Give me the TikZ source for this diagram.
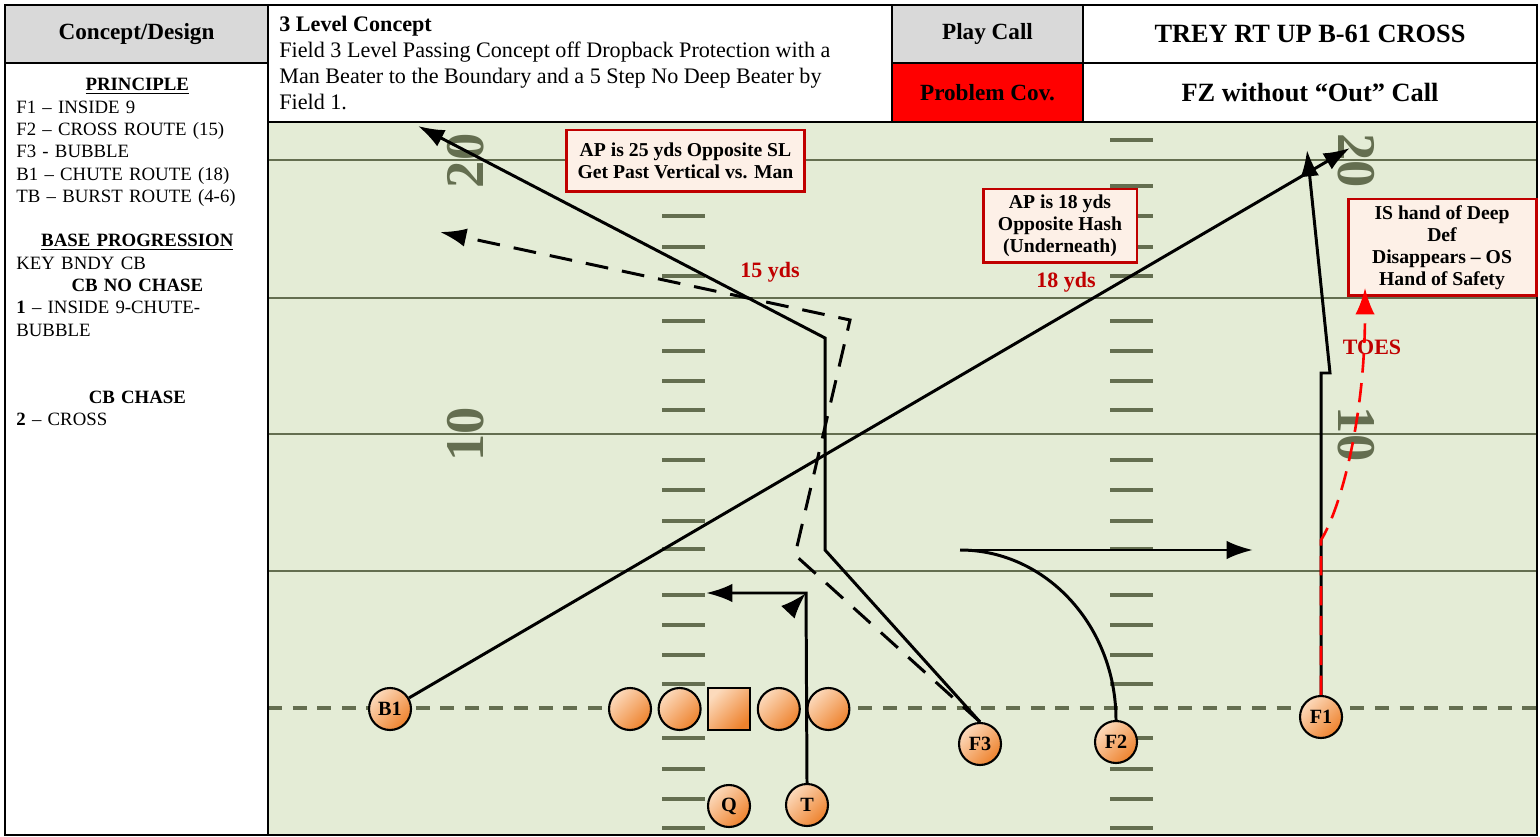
\documentclass[tikz,border=0pt]{standalone}
\usepackage{fontspec}
\setmainfont{Liberation Serif}
\usetikzlibrary{arrows.meta,positioning}
\definecolor{fieldgreen}{RGB}{228,236,214}
\definecolor{lineolive}{RGB}{100,110,80}
\definecolor{hdrgray}{RGB}{217,217,217}
\definecolor{notered}{RGB}{192,0,0}
\definecolor{notefill}{RGB}{253,240,231}
\definecolor{plylight}{RGB}{252,218,188}
\definecolor{plydark}{RGB}{238,130,45}

\begin{document}
\begin{tikzpicture}[x=0.02cm, y=-0.02cm,
  cell/.style={draw, line width=1.2pt, inner sep=0pt, minimum height=1.16cm, font=\bfseries\fontsize{13.2}{15}\selectfont},
  bigcell/.style={cell, font=\bfseries\fontsize{15}{17}\selectfont},
  yardline/.style={draw=lineolive, line width=1.7pt},
  hashmark/.style={draw=lineolive, line width=2.3pt},
  yardnum/.style={text=lineolive, font=\bfseries\fontsize{31}{31}\selectfont, inner sep=0pt},
  note/.style={draw=notered, line width=1.7pt, fill=notefill, align=center, inner sep=0pt, font=\bfseries\fontsize{11.2}{12.5}\selectfont},
  yds/.style={text=notered, font=\bfseries\fontsize{12.5}{14}\selectfont, inner sep=0pt},
  player/.style={circle, draw, line width=1.2pt, minimum size=0.84cm, inner sep=0pt, top color=plylight, bottom color=plydark, shading angle=45, font=\bfseries\fontsize{11.5}{13}\selectfont},
  snap/.style={player, rectangle},
  route/.style={line width=1.7pt},
  arr/.style={-{Latex[length=15pt,width=10.5pt]}},
  dashroute/.style={route, dash pattern=on 13pt off 8pt},
  toes/.style={draw=red, line width=1.5pt, dash pattern=on 11pt off 6pt}]
\useasboundingbox (0,0) rectangle (1540,837);
% field
\fill[fieldgreen] (268,122) rectangle (1537,835);
\foreach \yl in {160,298,434,571}
  \draw[yardline] (268,\yl) -- (1537,\yl);
\foreach \ty in {140,186,216,247,276,321,351,381,410,460,490,521,549,595,625,655,684,738,769,799,828} {
  \draw[hashmark] (662,\ty) -- (705,\ty);
  \draw[hashmark] (1110,\ty) -- (1153,\ty);
}
\draw[lineolive, line width=2pt, dash pattern=on 8pt off 6pt] (268,708) -- (1537,708);
\node[yardnum, rotate=90] (num20l) at (466,161) {20};
\node[yardnum, rotate=90] (num10l) at (466,434) {10};
\node[yardnum, rotate=-90] (num20r) at (1356,161) {20};
\node[yardnum, rotate=-90] (num10r) at (1356,434) {10};
% header
\node[cell, fill=hdrgray, minimum width=5.26cm] (designhdr) at (136.5,34) {Concept/Design};
\draw[line width=1.2pt] (5,63) rectangle (268,835);
\draw[line width=1.2pt] (268,5) rectangle (892,122);
\node[anchor=north west, align=left, inner sep=0pt, font=\fontsize{12.6}{14.7}\selectfont] (concepttxt) at (279,16)
  {\textbf{3 Level Concept}\\Field 3 Level Passing Concept off Dropback Protection with a\\Man Beater to the Boundary and a 5 Step No Deep Beater by\\Field 1.};
\node[cell, fill=hdrgray, minimum width=3.82cm] (callhdr) at (987.5,34) {Play Call};
\node[cell, fill=red, minimum width=3.82cm, minimum height=1.18cm] (covhdr) at (987.5,92.5) {Problem Cov.};
\node[bigcell, minimum width=9.08cm] (playcall) at (1310,34) {TREY RT UP B-61 CROSS};
\node[bigcell, minimum width=9.08cm, minimum height=1.18cm] (probcov) at (1310,92.5) {FZ without “Out” Call};
\draw[line width=1.2pt] (268,122) rectangle (1537,835);
\draw[line width=1.2pt] (5,5) rectangle (1537,835);
% left panel
\node[anchor=north west, text width=4.84cm, align=left, inner sep=0pt, font=\fontsize{10.7}{12.7}\selectfont] (principles) at (16,78)
  {\parindent0pt\centerline{\textbf{\underline{PRINCIPLE}}}
   F1 – INSIDE 9\\
   F2 – CROSS ROUTE (15)\\
   F3 - BUBBLE\\
   B1 – CHUTE ROUTE (18)\\
   TB – BURST ROUTE (4-6)\par
   \vskip12.7pt
   \centerline{\textbf{\underline{BASE PROGRESSION}}}
   KEY BNDY CB\par
   \centerline{\textbf{CB NO CHASE}}
   \textbf{1} – INSIDE 9-CHUTE-\\
   BUBBLE\par
   \vskip25.4pt
   \centerline{\textbf{CB CHASE}}
   \textbf{2} – CROSS};
% notes
\node[note, minimum width=4.78cm, minimum height=1.24cm] (note25) at (685.5,161) {AP is 25 yds Opposite SL\\Get Past Vertical vs. Man};
\node[note, minimum width=3.08cm, minimum height=1.48cm] (note18) at (1060,226) {AP is 18 yds\\Opposite Hash\\(Underneath)};
\node[note, minimum width=3.76cm, minimum height=1.94cm] (notesafety) at (1442,247.5) {IS hand of Deep\\Def\\Disappears – OS\\Hand of Safety};
\node[yds] (yds15) at (770,272) {15 yds};
\node[yds] (yds18) at (1066,282) {18 yds};
\node[yds] (toeslbl) at (1372,347) {TOES};
% players
\node[player] (B1) at (390,709) {B1};
\node[player] (lt) at (630,709) {};
\node[player, right=0.11cm of lt] (lg) {};
\node[snap, right=0.11cm of lg] (ctr) {};
\node[player, right=0.11cm of ctr] (rg) {};
\node[player, right=0.11cm of rg] (rt) {};
\node[player] (Q) at (729,806) {Q};
\node[player] (T) at (807,805) {T};
\node[player] (F3) at (980,744) {F3};
\node[player] (F2) at (1116,742) {F2};
\node[player] (F1) at (1321,717) {F1};
% routes
\coordinate (b1tip) at (1350,148);
\draw[route, arr] (B1) -- (b1tip);
\coordinate (f3low) at (825,550);
\coordinate (f3high) at (825,338);
\coordinate (f3tip) at (418,126);
\draw[route, arr] (F3.north) -- (f3low) -- (f3high) -- (f3tip);
\coordinate (dlow) at (795,555);
\coordinate (dhigh) at (850,320);
\coordinate (dtip) at (440,232);
\draw[dashroute, arr] (F3.north) -- (dlow) -- (dhigh) -- (dtip);
\coordinate (tcorner) at (806,593);
\coordinate (ttip) at (706,593);
\coordinate (tstub) at (790,610);
\draw[route, arr] (T.north) -- (tcorner) -- (ttip);
\draw[route, arr] (tstub) -- (tcorner);
\coordinate (f2turn) at (960,550);
\coordinate (f2tip) at (1253,550);
\draw[route] (F2.north) .. controls (1116,626) and (1046,550) .. (f2turn);
\draw[route, arr] (f2turn) -- (f2tip);
\coordinate (f1step) at (1321,373);
\coordinate (f1jog) at (1330,373);
\coordinate (f1tip) at (1307,150);
\draw[route, arr] (F1.north) -- (f1step) -- (f1jog) -- (f1tip);
\coordinate (toesbreak) at (1321,540);
\coordinate (toestip) at (1365,288);
\draw[toes, -{Latex[length=15pt,width=11pt]}] (F1.north) -- (toesbreak) .. controls (1340,510) and (1365,420) .. (toestip);
\end{tikzpicture}
\end{document}
